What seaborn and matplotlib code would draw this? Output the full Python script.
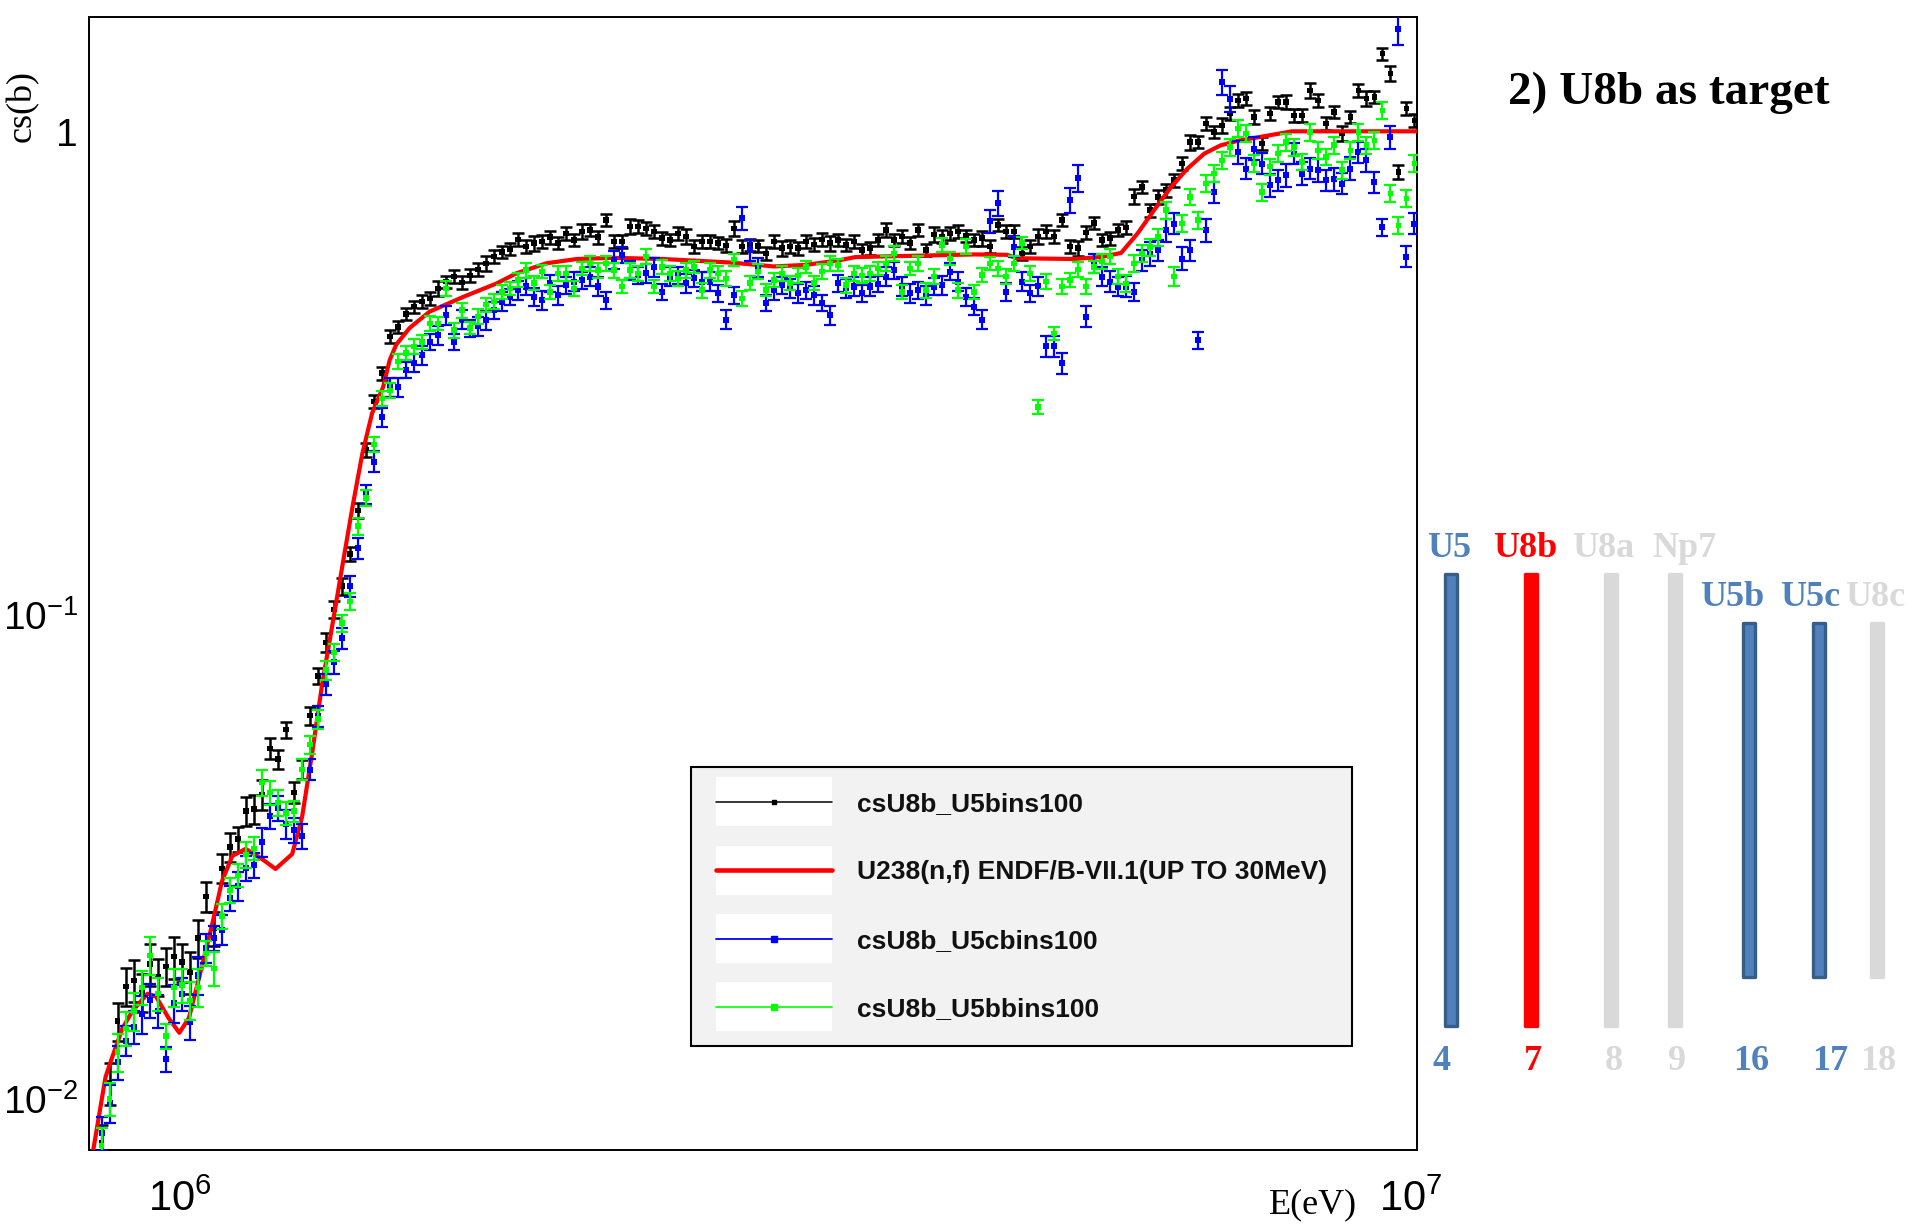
import numpy as np
import pandas as pd
import matplotlib
matplotlib.use("Agg")
import matplotlib.pyplot as plt
import seaborn as sns
from matplotlib.lines import Line2D
from matplotlib.patches import Rectangle
from matplotlib.legend_handler import HandlerLine2D
from matplotlib.font_manager import FontProperties
from matplotlib.ticker import FixedLocator, LogLocator, FuncFormatter, NullFormatter

# ------------------------------------------------------------------ data
# ENDF/B-VII.1 U238(n,f) evaluated curve
endf_energy_MeV = [0.848, 0.871, 0.882, 0.899, 0.916, 0.942, 0.957, 0.980, 1.000, 1.018,
                   1.037, 1.063, 1.083, 1.104, 1.132, 1.168, 1.197, 1.235, 1.258, 1.282,
                   1.306, 1.331, 1.356, 1.382, 1.408, 1.434, 1.464, 1.482, 1.500, 1.538,
                   1.597, 1.701, 1.810, 1.878, 1.987, 2.103, 2.253, 2.470, 2.800, 3.040,
                   3.230, 3.440, 3.540, 3.890, 4.420, 4.700, 4.790, 5.320, 5.600, 5.820,
                   6.000, 6.190, 6.390, 6.590, 6.800, 7.010, 7.230, 7.820, 8.010, 10.12]
endf_cs_b = [0.0074, 0.0111, 0.0122, 0.0140, 0.0152, 0.0165, 0.0163, 0.0147, 0.0137, 0.0147,
             0.0177, 0.0229, 0.0282, 0.0318, 0.0329, 0.0313, 0.0299, 0.0321, 0.0383, 0.0520,
             0.0720, 0.0953, 0.126, 0.167, 0.216, 0.262, 0.297, 0.3375, 0.363, 0.393,
             0.425, 0.456, 0.486, 0.510, 0.535, 0.546, 0.549, 0.546, 0.537, 0.527,
             0.531, 0.543, 0.551, 0.554, 0.558, 0.557, 0.548, 0.546, 0.551, 0.562,
             0.616, 0.689, 0.769, 0.840, 0.902, 0.938, 0.958, 0.992, 1.003, 1.003]

# histogram binning (log-uniform bins, log10 of first bin centre and bin width)
bin_log10_first = 5.937
bin_log10_width = 0.0065

# csU8b_U5bins100 (black)
cs_U5 = [0.0081, 0.0108, 0.0145, 0.0171, 0.0176, 0.0166, 0.0190, 0.0179, 0.0188, 0.0197,
         0.0192, 0.0183, 0.0215, 0.0262, 0.0225, 0.0300, 0.0332, 0.0345, 0.0394, 0.0398,
         0.0426, 0.0530, 0.0505, 0.0580, 0.0430, 0.0480, 0.0620, 0.0750, 0.0880, 0.1030,
         0.1150, 0.1340, 0.1650, 0.2200, 0.2770, 0.3170, 0.3780, 0.3950, 0.4200, 0.4350,
         0.4460, 0.4530, 0.4750, 0.4900, 0.5020, 0.4880, 0.5050, 0.5200, 0.5350, 0.5520,
         0.5650, 0.5730, 0.6000, 0.5790, 0.5890, 0.5930, 0.6060, 0.5890, 0.6170, 0.5980,
         0.6220, 0.6270, 0.6060, 0.6580, 0.5930, 0.5930, 0.6370, 0.6370, 0.6320, 0.6220,
         0.6030, 0.5980, 0.6170, 0.6080, 0.5790, 0.5930, 0.5930, 0.5890, 0.5830, 0.6320,
         0.5790, 0.5840, 0.5810, 0.5610, 0.5930, 0.5750, 0.5790, 0.5750, 0.5930, 0.5850,
         0.6000, 0.5890, 0.5980, 0.5840, 0.5930, 0.5700, 0.5750, 0.5980, 0.6270, 0.5980,
         0.6080, 0.5890, 0.6270, 0.5700, 0.6140, 0.6080, 0.6170, 0.6220, 0.6100, 0.5980,
         0.6030, 0.5790, 0.6420, 0.6220, 0.6220, 0.5610, 0.5790, 0.6080, 0.6220, 0.6080,
         0.6580, 0.5790, 0.5750, 0.6200, 0.6480, 0.5980, 0.6030, 0.6270, 0.6350, 0.7350,
         0.7690, 0.6890, 0.7340, 0.7580, 0.7950, 0.8600, 0.9530, 0.9530, 1.0400, 1.0000,
         1.0320, 1.0910, 1.1630, 1.1720, 1.0740, 0.9460, 1.0910, 1.1540, 1.1540, 1.0830,
         1.0830, 1.2190, 1.1630, 1.0400, 1.1000, 0.9920, 1.0740, 1.2190, 1.1720, 1.1810,
         1.4510, 1.3200, 0.8270, 1.1170, 1.0570]
err_U5_pct = [9, 10, 9, 9, 10, 9, 10, 9, 9, 10,
              9, 10, 9, 7, 8, 7, 7, 6, 7, 7,
              7, 5, 4.5, 4, 5, 4.5, 4.5, 4, 4.5, 4,
              4, 3.5, 3.5, 3.5, 3, 3, 3, 3, 3, 3,
              3, 3, 3.5, 3, 3, 3, 3, 3, 3.5, 3,
              3, 3, 3, 3, 3.5, 3, 3, 3, 3, 3,
              3.5, 3, 3, 3, 3, 3, 3.5, 3, 3, 3,
              3, 3, 3, 3.5, 3, 3, 3, 3, 3, 3.5,
              3, 3, 3, 3, 3, 3.5, 3, 3, 3, 3,
              3, 3.5, 3, 3, 3, 3, 3, 3, 3.5, 3,
              3, 3, 3, 3, 3.5, 3, 3, 3, 3, 3,
              3.5, 3, 3, 3, 3, 3, 3, 3.5, 3, 3,
              3, 3, 3.5, 3, 3, 3, 3, 3, 3, 3.5,
              3, 3, 3.5, 3, 3, 3, 3.5, 3, 3, 3,
              3.5, 3, 3, 3, 3.5, 3, 3, 3, 3.5, 3,
              3, 3.5, 3, 3, 3, 3.5, 3, 3, 3.5, 3,
              3, 3.5, 3.5, 3, 3]

# csU8b_U5cbins100 (blue)
cs_U5c = [0.0085, 0.0098, 0.0119, 0.0132, 0.0141, 0.0150, 0.0160, 0.0152, 0.0121, 0.0158,
          0.0165, 0.0144, 0.0180, 0.0205, 0.0215, 0.0224, 0.0260, 0.0276, 0.0300, 0.0305,
          0.0340, 0.0385, 0.0400, 0.0370, 0.0360, 0.0350, 0.0480, 0.0620, 0.0720, 0.0800,
          0.0897, 0.1150, 0.1380, 0.1780, 0.2080, 0.2570, 0.2970, 0.2970, 0.3220, 0.3330,
          0.3450, 0.3680, 0.3800, 0.4180, 0.3680, 0.4090, 0.3930, 0.3960, 0.4080, 0.4280,
          0.4460, 0.4560, 0.4710, 0.4790, 0.4560, 0.4490, 0.4870, 0.4600, 0.4820, 0.4900,
          0.4940, 0.5020, 0.4790, 0.4490, 0.5440, 0.5570, 0.5180, 0.5060, 0.5100, 0.5260,
          0.4670, 0.5020, 0.5060, 0.4870, 0.4980, 0.4900, 0.4900, 0.4640, 0.4090, 0.4600,
          0.6630, 0.5700, 0.5260, 0.4430, 0.4700, 0.4820, 0.4750, 0.4640, 0.4700, 0.4600,
          0.4430, 0.4180, 0.4870, 0.4750, 0.4790, 0.4640, 0.4790, 0.4850, 0.5020, 0.5180,
          0.4790, 0.4640, 0.4700, 0.4600, 0.4790, 0.4820, 0.5140, 0.4900, 0.4560, 0.4350,
          0.4090, 0.6530, 0.7120, 0.4670, 0.5790, 0.4900, 0.4640, 0.4800, 0.3600, 0.3600,
          0.3330, 0.7240, 0.8020, 0.4150, 0.5350, 0.5020, 0.4900, 0.4790, 0.4790, 0.4670,
          0.5430, 0.5600, 0.5690, 0.6260, 0.6460, 0.5470, 0.5690, 0.3710, 0.6260, 0.7510,
          1.2690, 1.1720, 0.9090, 0.8400, 0.9240, 0.8600, 0.7760, 0.7950, 0.8140, 0.9020,
          0.8200, 0.8400, 0.8340, 0.7950, 0.8000, 0.7820, 0.8400, 0.9090, 0.8740, 0.7880,
          0.6360, 0.9760, 1.6350, 0.5520, 0.6460]
err_U5c_pct = [8, 9, 8, 7, 8, 9, 8, 8, 6, 9,
               8, 8, 9, 7, 6, 7, 6, 7, 6, 6,
               7, 6, 6, 7, 6, 6, 5, 5, 5, 5.5,
               5, 5, 5, 4.5, 5, 4.5, 4.5, 4.5, 4, 4.5,
               4.5, 4, 4.5, 4.5, 4, 4.5, 4, 4.5, 4.5, 4,
               4.5, 4, 4.5, 4, 4.5, 4.5, 4, 4.5, 4, 4.5,
               4, 4.5, 4.5, 4, 4.5, 4, 4.5, 4, 4.5, 4.5,
               4, 4.5, 4, 4.5, 4, 4.5, 4.5, 4, 4.5, 4,
               5.5, 5, 4.5, 4, 4.5, 4, 4.5, 4.5, 4, 4.5,
               4, 4.5, 4, 4.5, 4.5, 4, 4.5, 4, 4.5, 4,
               4.5, 4.5, 4, 4.5, 4, 4.5, 4, 4.5, 4.5, 4,
               4.5, 5.5, 6, 4.5, 5, 4.5, 4, 4.5, 5, 5,
               5, 6, 6.5, 5, 4.5, 4.5, 5, 4.5, 5, 4.5,
               5, 5.5, 5, 5.5, 5, 5.5, 5, 4, 5.5, 5,
               6, 6, 5.5, 5, 5.5, 5, 5.5, 5, 5.5, 5,
               5.5, 5, 5.5, 5, 5.5, 5, 5.5, 5, 5.5, 5,
               4, 5.5, 7.5, 5, 5]

# csU8b_U5bbins100 (green)
cs_U5b = [0.0080, 0.0100, 0.0125, 0.0140, 0.0152, 0.0170, 0.0198, 0.0165, 0.0135, 0.0170,
          0.0172, 0.0160, 0.0170, 0.0200, 0.0186, 0.0239, 0.0270, 0.0290, 0.0320, 0.0330,
          0.0451, 0.0430, 0.0410, 0.0390, 0.0394, 0.0480, 0.0540, 0.0611, 0.0771, 0.0839,
          0.0964, 0.1070, 0.1530, 0.1750, 0.2260, 0.2810, 0.2920, 0.3350, 0.3490, 0.3600,
          0.3680, 0.4020, 0.4020, 0.4750, 0.3890, 0.4280, 0.3930, 0.4150, 0.4390, 0.4460,
          0.4670, 0.4750, 0.4940, 0.5180, 0.4870, 0.5140, 0.4670, 0.5100, 0.5100, 0.4750,
          0.5220, 0.5350, 0.5180, 0.5350, 0.5180, 0.4790, 0.5180, 0.5100, 0.5520, 0.4790,
          0.5260, 0.5100, 0.4980, 0.5180, 0.5260, 0.4710, 0.5180, 0.5100, 0.4980, 0.5440,
          0.4530, 0.4870, 0.5140, 0.4710, 0.4940, 0.5100, 0.4870, 0.5050, 0.5260, 0.4870,
          0.5140, 0.5350, 0.5310, 0.4820, 0.5100, 0.5050, 0.5100, 0.5220, 0.5350, 0.5610,
          0.4670, 0.5220, 0.5350, 0.4710, 0.5020, 0.5840, 0.5480, 0.4710, 0.5790, 0.4670,
          0.5060, 0.5350, 0.5220, 0.5020, 0.5350, 0.5890, 0.5100, 0.2700, 0.4900, 0.3830,
          0.4790, 0.4940, 0.5200, 0.4790, 0.5260, 0.5400, 0.5520, 0.5020, 0.4860, 0.5340,
          0.5600, 0.5780, 0.6060, 0.6890, 0.5020, 0.6460, 0.7340, 0.6570, 0.7820, 0.8200,
          0.8740, 0.9310, 1.0160, 0.9920, 0.8600, 0.7510, 0.8470, 0.9020, 0.9530, 0.9310,
          0.8670, 1.0000, 0.9160, 0.8880, 0.9390, 0.8340, 0.9160, 1.0000, 0.9390, 0.9610,
          1.1090, 0.7460, 0.6410, 0.7280, 0.8600]
err_U5b_pct = [9, 8, 9, 8, 9, 8, 9, 8, 6, 9,
               8, 9, 9, 6, 8, 6, 6, 5.5, 6, 5.5,
               6, 5.5, 6, 5.5, 5, 5, 4.5, 4.5, 4.5, 4,
               4, 4, 4, 4, 3.5, 3.5, 3.5, 3.5, 3.5, 3.5,
               3.5, 3.5, 3, 3.5, 3.5, 3.5, 3, 3.5, 3.5, 3.5,
               3.5, 3, 3.5, 3.5, 3.5, 3, 3.5, 3.5, 3.5, 3.5,
               3, 3.5, 3.5, 3.5, 3.5, 3, 3.5, 3.5, 3.5, 3,
               3.5, 3.5, 3.5, 3.5, 3, 3.5, 3.5, 3.5, 3.5, 3,
               3.5, 3.5, 3.5, 3, 3.5, 3.5, 3.5, 3.5, 3, 3.5,
               3.5, 3.5, 3, 3.5, 3.5, 3.5, 3.5, 3, 3.5, 3.5,
               3.5, 3, 3.5, 3.5, 3.5, 3.5, 3, 3.5, 3.5, 3.5,
               3.5, 3, 3.5, 3.5, 3.5, 3, 3.5, 3.5, 3.5, 3,
               3.5, 3.5, 3.5, 3.5, 3, 3.5, 3.5, 3.5, 4, 4,
               4, 4, 4, 4, 4.5, 4, 4, 4, 4, 4,
               4, 4, 4, 4, 4, 4, 4, 4, 4, 4,
               4, 4, 4, 4, 4, 4, 4, 4, 4, 4,
               4, 4, 4, 4, 4]

series_labels = ["csU8b_U5bins100", "U238(n,f) ENDF/B-VII.1(UP TO 30MeV)",
                 "csU8b_U5cbins100", "csU8b_U5bbins100"]

# detector stack schematic (right panel)
panel_names = ["U5", "U8b", "U8a", "Np7", "U5b", "U5c", "U8c"]
panel_channels = ["4", "7", "8", "9", "16", "17", "18"]
panel_bar_length = [1.0, 1.0, 1.0, 1.0, 0.785, 0.785, 0.785]
panel_role = ["ref", "target", "off", "off", "ref", "ref", "off"]
panel_title = "2) U8b as target"

# ------------------------------------------------------------------ style
sns.set_style("white")
plt.rcParams["font.family"] = ["Liberation Sans", "DejaVu Sans"]
plt.rcParams["mathtext.fontset"] = "custom"
plt.rcParams["mathtext.rm"] = "Liberation Sans"
plt.rcParams["mathtext.it"] = "Liberation Sans:italic"
plt.rcParams["mathtext.bf"] = "Liberation Sans:bold"
plt.rcParams["axes.edgecolor"] = "black"
plt.rcParams["text.color"] = "black"
plt.rcParams["xtick.color"] = "black"
plt.rcParams["ytick.color"] = "black"

W, H = 1915, 1224
fig = plt.figure(figsize=(W / 100, H / 100), dpi=100)
fig.patch.set_facecolor("white")

# main axes frame (pixel layout)
L, R, T, B = 89, 1417, 17, 1150
ax = fig.add_axes([L / W, 1 - B / H, (R - L) / W, (B - T) / H])
ax.set_facecolor("white")

energy = 10 ** (bin_log10_first + bin_log10_width * np.arange(len(cs_U5)))

def hist_frame(cs, err_pct):
    cs = np.asarray(cs, float)
    return pd.DataFrame({"E": energy, "cs": cs, "err": cs * np.asarray(err_pct, float) / 100.0})

df_U5 = hist_frame(cs_U5, err_U5_pct)
df_U5c = hist_frame(cs_U5c, err_U5c_pct)
df_U5b = hist_frame(cs_U5b, err_U5b_pct)
df_endf = pd.DataFrame({"E": np.asarray(endf_energy_MeV) * 1e6, "cs": endf_cs_b})

ax.set_xscale("log")
ax.set_yscale("log")

def draw_hist(df, color, msize, z, lw=1.6):
    ax.errorbar(df["E"], df["cs"], yerr=df["err"], fmt="none", ecolor=color,
                elinewidth=lw, capsize=4.0, capthick=lw, zorder=z)
    sns.scatterplot(data=df, x="E", y="cs", ax=ax, color=color, marker="s", s=msize,
                    edgecolor="none", linewidth=0, legend=False, zorder=z + 0.1)

draw_hist(df_U5, "black", 15, 2, lw=1.8)
sns.lineplot(data=df_endf, x="E", y="cs", ax=ax, color="#FF0000", linewidth=3.0,
             sort=False, estimator=None, legend=False, zorder=3)
draw_hist(df_U5c, "#0000FF", 19, 4)
draw_hist(df_U5b, "#00FF00", 15, 5)

ax.set_xlim(8.445e5, 1.0122e7)
ax.set_ylim(0.00784, 1.7287)

ax.xaxis.set_major_locator(FixedLocator([1e6, 1e7]))
ax.xaxis.set_minor_locator(LogLocator(base=10, subs=np.arange(2, 10), numticks=30))
ax.yaxis.set_major_locator(FixedLocator([0.01, 0.1, 1.0]))
ax.yaxis.set_minor_locator(LogLocator(base=10, subs=np.arange(2, 10), numticks=30))

def root_fmt(v, pos):
    if abs(v - 1.0) < 1e-9:
        return "1"
    return r"$\mathregular{10^{%d}}$" % int(round(np.log10(v)))

ax.xaxis.set_major_formatter(FuncFormatter(root_fmt))
ax.yaxis.set_major_formatter(FuncFormatter(root_fmt))
ax.xaxis.set_minor_formatter(NullFormatter())
ax.yaxis.set_minor_formatter(NullFormatter())

ax.tick_params(which="both", direction="in", top=False, right=False, width=1.4,
               color="black")
ax.tick_params(which="major", length=27)
ax.tick_params(which="minor", length=13.5)
ax.tick_params(axis="x", which="major", pad=21, labelsize=30)
ax.tick_params(axis="y", which="major", pad=8, labelsize=28)
for s in ax.spines.values():
    s.set_linewidth(1.4)
    s.set_color("black")
ax.set_xlabel("")
ax.set_ylabel("")

serif = "Liberation Serif"
fig.text(22 / W, 1 - 106 / H, "cs(b)", rotation=90, ha="center", va="center",
         family=serif, fontsize=26)
fig.text(1357 / W, 1 - 1213 / H, "E(eV)", ha="right", va="baseline",
         family=serif, fontsize=26)

# ------------------------------------------------------------------ legend
class BoxedLineHandler(HandlerLine2D):
    def create_artists(self, legend, orig_handle, xdescent, ydescent, width, height,
                       fontsize, trans):
        arts = super().create_artists(legend, orig_handle, xdescent, ydescent, width,
                                      height, fontsize, trans)
        box_h = 1.85 * fontsize
        ymid = (height - ydescent) / 2
        box = Rectangle((-xdescent, ymid - box_h / 2), width, box_h, facecolor="white",
                        edgecolor="none", transform=trans)
        return [box] + list(arts)

handles = [
    Line2D([], [], color="black", lw=1.1, marker="s", markersize=3.5),
    Line2D([], [], color="#FF0000", lw=3.3),
    Line2D([], [], color="#0000FF", lw=1.3, marker="s", markersize=4.5),
    Line2D([], [], color="#00FF00", lw=1.2, marker="s", markersize=3.8),
]
leg = ax.legend(handles, series_labels, loc="upper left",
                bbox_to_anchor=(691 / W, 1 - 767 / H), bbox_transform=fig.transFigure,
                borderaxespad=0, frameon=True, fancybox=False, shadow=False,
                framealpha=1, facecolor="#F2F2F2", edgecolor="black",
                prop=FontProperties(family="Liberation Sans", weight="bold", size=19),
                handlelength=4.4, handletextpad=0.95, borderpad=0.95, labelspacing=1.68,
                numpoints=1, handler_map={Line2D: BoxedLineHandler()})
leg.get_frame().set_linewidth(1.5)
for t in leg.get_texts():
    t.set_color("#111111")

# ------------------------------------------------------------------ right panel
fig.text(1508 / W, 1 - 104 / H, panel_title, ha="left", va="baseline", family=serif,
         fontweight="bold", fontsize=34)

PX0, PY0, PX1, PY1 = 1420, 500, 1915, 1100
axp = fig.add_axes([PX0 / W, 1 - PY1 / H, (PX1 - PX0) / W, (PY1 - PY0) / H])
axp.set_xlim(0, PX1 - PX0)
axp.set_ylim(-0.665, 0.665)
axp.axis("off")

role_style = {
    "ref": ("#4F81BD", "#385D8A", "#4F81BD"),
    "target": ("#FF0000", "#FF0000", "#FF0000"),
    "off": ("#D9D9D9", "#D9D9D9", "#D9D9D9"),
}
slot_x = [30.6, 111.2, 191.4, 255.2, 328.6, 399.3, 456.9]
name_dx = [-1, -6, -8, 9, -16, -9, -2]
chan_dx = [-9, 2, 2, 2, 3, 11, 1]
chan_row_y = -0.598

faces = [role_style[r][0] for r in panel_role]
edges = [role_style[r][1] for r in panel_role]
bottoms = [-l / 2 for l in panel_bar_length]
axp.bar(slot_x, panel_bar_length, bottom=bottoms, width=12, color=faces,
        edgecolor=edges, linewidth=2.4, joinstyle="round")
for x, l, name, ch, role, dn, dc in zip(slot_x, panel_bar_length, panel_names,
                                        panel_channels, panel_role, name_dx, chan_dx):
    col = role_style[role][2]
    axp.annotate(name, xy=(x, l / 2), xytext=(dn * 0.72, 12.2), textcoords="offset points",
                 ha="center", va="baseline", family=serif, fontweight="bold",
                 fontsize=26, color=col)
    axp.text(x + dc, chan_row_y, ch, ha="center", va="baseline", family=serif,
             fontweight="bold", fontsize=26, color=col)

fig.savefig("out.png", dpi=100, facecolor="white")
